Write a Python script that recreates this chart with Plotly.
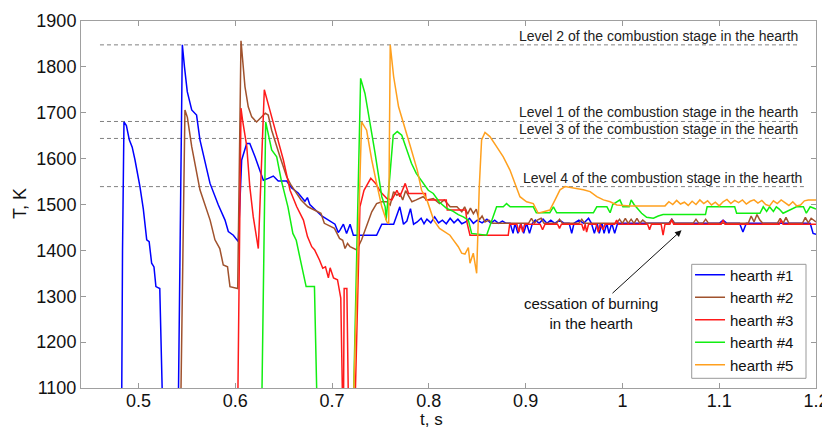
import plotly.graph_objects as go

# ---------------- data ----------------
t1 = [0.4826, 0.4835, 0.485, 0.4875, 0.4905, 0.4935, 0.4964, 0.5015, 0.505, 0.5085, 0.511, 0.5136, 0.516, 0.518, 0.522, 0.5243, 0.525,
      0.5411, 0.5453, 0.5475, 0.5504, 0.555, 0.560, 0.5635, 0.569, 0.5739, 0.5825, 0.5894, 0.5928, 0.598, 0.6031,
      0.6066, 0.6118, 0.615, 0.6204, 0.6256, 0.629, 0.6341, 0.6393, 0.6444, 0.6531, 0.6583, 0.665, 0.670, 0.672, 0.6745, 0.677,
      0.6893, 0.696, 0.703, 0.7064, 0.7082, 0.7117, 0.715, 0.7186, 0.722, 0.746, 0.7514, 0.7636, 0.770, 0.7738, 0.7773, 0.781, 0.7842,
      0.788, 0.792, 0.795, 0.798, 0.802, 0.806, 0.810, 0.814, 0.818, 0.822, 0.826, 0.830, 0.834, 0.838, 0.842, 0.846, 0.850, 0.855,
      0.860, 0.864, 0.868, 0.872, 0.876, 0.880, 0.884, 0.887, 0.889, 0.892, 0.895, 0.898, 0.901, 0.904, 0.907, 0.910, 0.914, 0.918,
      0.922, 0.926, 0.930, 0.935, 0.940, 0.945, 0.9476, 0.950, 0.955, 0.960, 0.965, 0.968, 0.971, 0.974, 0.976, 0.979, 0.981, 0.984,
      0.986, 0.989, 0.992, 0.995, 1.048, 1.051, 1.054, 1.100, 1.104, 1.108, 1.121, 1.1245, 1.128, 1.194, 1.197, 1.2]
T1 = [1050, 1400, 1680, 1672, 1641, 1625, 1597, 1539, 1490, 1423, 1419, 1372, 1364, 1321, 1317, 1100, 1050,
      1050, 1848, 1800, 1746, 1706, 1695, 1641, 1590, 1546, 1499, 1466, 1441, 1433, 1419,
      1597, 1633, 1633, 1604, 1575, 1553, 1557, 1562, 1551, 1551, 1536, 1525, 1512, 1507, 1515, 1500,
      1475, 1467, 1457, 1439, 1444, 1457, 1437, 1457, 1433, 1433, 1457, 1457, 1495, 1457, 1464, 1491, 1457,
      1462, 1470, 1458, 1468, 1460, 1473, 1460, 1466, 1458, 1470, 1460, 1468, 1458, 1462, 1470, 1459, 1466, 1460,
      1468, 1459, 1466, 1459, 1464, 1459, 1459, 1437, 1459, 1437, 1459, 1437, 1459, 1437, 1459, 1466, 1459, 1468,
      1459, 1466, 1459, 1466, 1459, 1459, 1437, 1459, 1466, 1459, 1470, 1459, 1437, 1459, 1437, 1459, 1437, 1459,
      1437, 1459, 1437, 1459, 1459, 1468, 1459, 1459, 1466, 1459, 1459, 1440, 1459, 1459, 1437, 1435]

t2 = [0.5436, 0.548, 0.5505, 0.555, 0.5635, 0.574, 0.579, 0.584, 0.5876, 0.592, 0.5945, 0.6007, 0.6025,
      0.6059, 0.610, 0.6134, 0.617, 0.622, 0.627, 0.631, 0.634, 0.6376, 0.6462, 0.653, 0.6577, 0.668, 0.675, 0.6885, 0.692,
      0.7025, 0.7077, 0.711, 0.7134, 0.716, 0.7186, 0.7255, 0.7305, 0.7357, 0.741, 0.746, 0.7514, 0.7566, 0.760, 0.7636, 0.767,
      0.770, 0.773, 0.776, 0.7825, 0.787, 0.794, 0.798, 0.8046, 0.811, 0.816, 0.822, 0.829, 0.834, 0.837, 0.840, 0.843, 0.846,
      0.849, 0.852, 0.855, 0.858, 0.862, 0.866, 0.903, 0.906, 0.909, 0.912, 0.916, 0.919, 0.932, 0.935, 0.938, 0.955, 0.958,
      0.961, 0.994, 0.997, 1.000, 1.003, 1.006, 1.009, 1.012, 1.015, 1.018, 1.021, 1.025, 1.048, 1.051, 1.054, 1.073, 1.076,
      1.079, 1.083, 1.086, 1.089, 1.130, 1.133, 1.136, 1.139, 1.142, 1.145, 1.160, 1.163, 1.166, 1.169, 1.172, 1.186, 1.189,
      1.192, 1.195, 1.2]
T2 = [1050, 1706, 1690, 1626, 1532, 1466, 1423, 1404, 1368, 1364, 1321, 1317, 1317,
      1857, 1757, 1713, 1691, 1680, 1690, 1699, 1695, 1662, 1604, 1561, 1542, 1510, 1495, 1481, 1459,
      1448, 1426, 1422, 1404, 1415, 1408, 1401, 1423, 1451, 1484, 1502, 1506, 1506, 1499, 1528, 1520,
      1524, 1510, 1530, 1506, 1510, 1517, 1510, 1513, 1502, 1510, 1495, 1495, 1484, 1495, 1479, 1492, 1480,
      1490, 1466, 1475, 1462, 1466, 1459, 1459, 1470, 1459, 1466, 1470, 1459, 1459, 1468, 1459, 1459, 1468,
      1459, 1459, 1468, 1459, 1470, 1459, 1468, 1459, 1470, 1459, 1466, 1459, 1459, 1468, 1459, 1459, 1468,
      1459, 1459, 1468, 1459, 1459, 1475, 1462, 1478, 1466, 1459, 1459, 1470, 1459, 1472, 1459, 1459, 1472,
      1460, 1470, 1462]

t3 = [0.6025, 0.6059, 0.6075, 0.6118, 0.615, 0.6186, 0.6238, 0.6300, 0.6376, 0.6428, 0.6497, 0.6566, 0.6635, 0.6704,
      0.6746, 0.679, 0.682, 0.687, 0.6904, 0.6932, 0.6962, 0.698, 0.7015, 0.7056, 0.709, 0.711, 0.7118, 0.7125, 0.7153,
      0.717, 0.7236, 0.7288, 0.733, 0.740, 0.745, 0.750, 0.7566, 0.7618, 0.767, 0.770, 0.7756, 0.779, 0.7965, 0.797, 0.818,
      0.819, 0.838, 0.8395, 0.8425, 0.882, 0.8835, 0.891, 0.893, 0.895, 0.897, 0.899, 0.901, 0.915, 0.9175, 0.920, 0.933,
      0.935, 0.937, 0.958, 0.960, 0.9615, 0.963, 0.965, 0.973, 0.975, 0.977, 0.980, 0.982, 0.992, 0.994, 0.996, 1.026,
      1.028, 1.030, 1.040, 1.042, 1.044, 1.049, 1.051, 1.053, 1.102, 1.104, 1.106, 1.162, 1.164, 1.166, 1.2]
T3 = [1050, 1710, 1684, 1628, 1539, 1473, 1404, 1750, 1691, 1648, 1597, 1531, 1495, 1466,
      1430, 1408, 1401, 1379, 1361, 1364, 1340, 1362, 1340, 1336, 1296, 1050, 1050, 1317, 1317,
      1050, 1050, 1495, 1531, 1557, 1546, 1528, 1513, 1510, 1531, 1517, 1546, 1524, 1524, 1510, 1510,
      1488, 1488, 1460, 1433, 1433, 1457, 1457, 1440, 1457, 1440, 1457, 1457, 1457, 1445, 1457, 1457,
      1448, 1457, 1457, 1443, 1457, 1440, 1457, 1457, 1440, 1457, 1445, 1457, 1457, 1466, 1457, 1457,
      1445, 1457, 1457, 1433, 1457, 1457, 1466, 1457, 1457, 1466, 1457, 1457, 1466, 1457, 1457]

t4 = [0.6273, 0.6314, 0.6376, 0.6428, 0.6475, 0.6544, 0.6595, 0.663, 0.668, 0.6732, 0.6818, 0.6846,
      0.7219, 0.7295, 0.734, 0.7377, 0.741, 0.7445, 0.748, 0.7514, 0.7549, 0.7559, 0.7632, 0.7674, 0.772, 0.777, 0.782,
      0.787, 0.794, 0.7994, 0.8046, 0.811, 0.818, 0.8252, 0.8304, 0.8356, 0.8408, 0.8442, 0.8597, 0.8648, 0.870, 0.8769,
      0.8803, 0.884, 0.9079, 0.911, 0.925, 0.9287, 0.9321, 0.970, 0.9735, 0.984, 0.9873, 0.990, 0.9974, 1.0005, 1.007,
      1.009, 1.012, 1.0198, 1.025, 1.032, 1.037, 1.042, 1.0858, 1.0875, 1.116, 1.118, 1.1421, 1.1455, 1.149, 1.152, 1.156,
      1.159, 1.162, 1.166, 1.1798, 1.187, 1.190, 1.194, 1.2]
T4 = [1050, 1680, 1619, 1604, 1553, 1495, 1437, 1422, 1372, 1321, 1321, 1050,
      1050, 1775, 1742, 1691, 1655, 1611, 1560, 1517, 1495, 1466, 1651, 1659, 1651, 1619, 1590,
      1568, 1546, 1531, 1524, 1505, 1492, 1485, 1478, 1473, 1466, 1437, 1433, 1466, 1495, 1495,
      1502, 1495, 1495, 1482, 1482, 1495, 1482, 1482, 1495, 1495, 1482, 1500, 1510, 1495, 1495,
      1510, 1500, 1481, 1472, 1470, 1475, 1478, 1478, 1495, 1495, 1481, 1481, 1495, 1485, 1495, 1485,
      1495, 1490, 1481, 1495, 1495, 1481, 1495, 1490]

t5 = [0.7219, 0.7305, 0.7357, 0.741, 0.746, 0.7514, 0.7566, 0.7585, 0.7601, 0.7636, 0.7687, 0.774, 0.781, 0.788,
      0.7925, 0.798, 0.805, 0.811, 0.8166, 0.8218, 0.8252, 0.8304, 0.8339, 0.8373, 0.8408, 0.8425, 0.8459, 0.8494,
      0.8521, 0.8545, 0.858, 0.8631, 0.870, 0.8769, 0.8838, 0.889, 0.8941, 0.901, 0.9079, 0.913, 0.9182, 0.925, 0.9304,
      0.9355, 0.9407, 0.9528, 0.9597, 0.9666, 0.9735, 0.9804, 0.9873, 0.9942, 1.008, 1.044, 1.048, 1.052, 1.056, 1.060,
      1.064, 1.068, 1.072, 1.076, 1.080, 1.084, 1.088, 1.092, 1.096, 1.100, 1.104, 1.108, 1.112, 1.116, 1.120, 1.124,
      1.128, 1.132, 1.136, 1.140, 1.144, 1.148, 1.152, 1.156, 1.160, 1.164, 1.168, 1.172, 1.176, 1.180, 1.184, 1.188,
      1.192, 1.2]
T5 = [1050, 1680, 1662, 1597, 1546, 1495, 1462, 1458, 1848, 1779, 1713, 1677, 1626, 1575,
      1531, 1510, 1466, 1448, 1440, 1433, 1423, 1408, 1394, 1392, 1406, 1372, 1394, 1350,
      1539, 1641, 1657, 1648, 1626, 1604, 1575, 1546, 1517, 1506, 1502, 1481, 1484, 1488, 1510,
      1532, 1539, 1535, 1532, 1528, 1517, 1510, 1506, 1499, 1497, 1497, 1506, 1500, 1509, 1501,
      1505, 1498, 1507, 1500, 1510, 1502, 1508, 1499, 1505, 1497, 1506, 1511, 1502, 1509, 1504, 1510,
      1501, 1507, 1510, 1503, 1509, 1500, 1497, 1508, 1502, 1510, 1504, 1498, 1506, 1497, 1499, 1508,
      1510, 1510]

series_names = ["hearth #1", "hearth #2", "hearth #3", "hearth #4", "hearth #5"]
series_colors = ["#0000ff", "#a0522d", "#ff1a1a", "#11ee11", "#ffa01e"]

level_values = [1848, 1681, 1644, 1539]
level_labels = ["Level 2 of the combustion stage in the hearth",
                "Level 1 of the combustion stage in the hearth",
                "Level 3 of the combustion stage in the hearth",
                "Level 4 of the combustion stage in the hearth"]
level_start = [0.4602, 0.4602, 0.4602, 0.4602]
level_end = [1.1834, 1.1834, 1.1834, 1.1875]

x_ticks = [0.5, 0.6, 0.7, 0.8, 0.9, 1.0, 1.1, 1.2]
x_ticktext = ["0.5", "0.6", "0.7", "0.8", "0.9", "1", "1.1", "1.2"]
y_ticks = [1100, 1200, 1300, 1400, 1500, 1600, 1700, 1800, 1900]

arrow_head = (1.0611, 1444)

# ---------------- figure ----------------
FONT = "Arial, 'Liberation Sans', sans-serif"
fig = go.Figure()

for lv, ls, le in zip(level_values, level_start, level_end):
    fig.add_trace(go.Scatter(x=[ls, le], y=[lv, lv], mode="lines", showlegend=False,
                             line=dict(color="#808080", width=1, dash="4px,3px"), hoverinfo="skip"))

for tt, TT, nm, col in zip([t1, t2, t3, t4, t5], [T1, T2, T3, T4, T5], series_names, series_colors):
    fig.add_trace(go.Scatter(x=tt, y=TT, mode="lines", name=nm,
                             line=dict(color=col, width=1.5)))

for lv, lab, le in zip(level_values, level_labels, level_end):
    fig.add_annotation(x=le, y=lv, text=lab, showarrow=False, xanchor="right", yanchor="bottom",
                       yshift=-1, font=dict(family=FONT, size=14, color="#222222"))

fig.add_annotation(x=arrow_head[0], y=arrow_head[1], text="cessation of burning<br>in the hearth",
                   showarrow=True, arrowhead=2, arrowsize=1.3, arrowwidth=1, arrowcolor="#111111",
                   ax=-91, ay=83, font=dict(family=FONT, size=15, color="#111111"))

fig.add_annotation(x=0.477, y=-0.087, xref="paper", yref="paper", text="t, s", showarrow=False,
                   xanchor="center", yanchor="middle",
                   font=dict(family=FONT, size=17, color="#111111"))
fig.add_annotation(x=-0.083, y=0.504, xref="paper", yref="paper", text="T, K", showarrow=False,
                   xanchor="center", yanchor="middle",
                   textangle=-90, font=dict(family=FONT, size=18, color="#111111"))

# legend frame
fig.add_shape(type="rect", xref="paper", yref="paper", x0=0.8309, x1=0.9864, y0=0.0264, y1=0.337,
              line=dict(color="#999999", width=1), fillcolor="white", layer="above")

fig.update_xaxes(range=[0.4406, 1.2], tickvals=x_ticks, ticktext=x_ticktext, ticks="inside", ticklen=5,
                 tickcolor="#999999", showline=True, linecolor="#a0a0a0", linewidth=1, mirror="ticks",
                 showgrid=False, zeroline=False, automargin=False, ticklabelstandoff=-4,
                 tickfont=dict(family=FONT, size=18, color="#111111"))
fig.update_yaxes(range=[1100, 1900], tickvals=y_ticks, ticks="inside", ticklen=5,
                 tickcolor="#999999", showline=True, linecolor="#a0a0a0", linewidth=1, mirror="ticks",
                 showgrid=False, zeroline=False, automargin=False,
                 tickfont=dict(family=FONT, size=18, color="#111111"))

# the page body has an 8px margin, so the figure is sized/offset to compensate
fig.update_layout(template="none", width=822, height=420, margin=dict(l=73, r=14, t=13, b=40),
                  paper_bgcolor="white", plot_bgcolor="white",
                  legend=dict(x=0.8286, y=0.3529, xanchor="left", yanchor="top",
                              bgcolor="rgba(0,0,0,0)", borderwidth=0,
                              font=dict(family=FONT, size=15, color="#111111"),
                              tracegroupgap=0, itemwidth=30),
                  showlegend=True)

fig.write_html("out.html")
